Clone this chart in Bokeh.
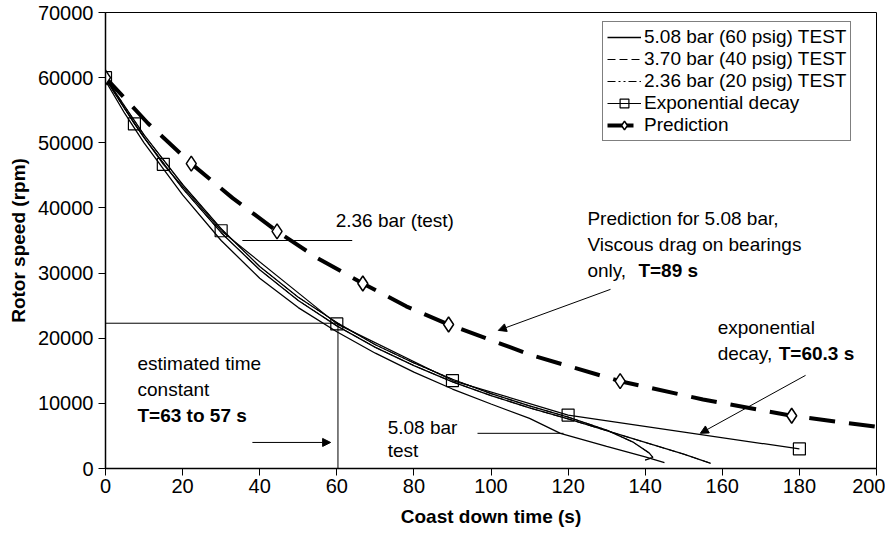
from bokeh.plotting import figure
from bokeh.models import (Range1d, FixedTicker, NumeralTickFormatter, Legend, LegendItem,
                          Arrow, NormalHead, Label)
from bokeh.embed import file_html
from bokeh.resources import INLINE

FONT = "Liberation Sans"
FS = "19px"

# ---------------- data ----------------
x_ticks = [0, 20, 40, 60, 80, 100, 120, 140, 160, 180, 200]
y_ticks = [0, 10000, 20000, 30000, 40000, 50000, 60000, 70000]

# 5.08 bar (60 psig) test
t_508 = [0, 5, 10, 20, 30, 40, 50, 60, 70, 80, 90, 100, 110, 118, 130, 140, 145]
rpm_508 = [59500, 54500, 50000, 42000, 35000, 29200, 24700, 21000, 17700, 14800, 12200,
           9900, 7700, 5400, 3400, 1800, 900]

# 3.70 bar (40 psig) test
t_370 = [0, 5, 10, 20, 30, 40, 50, 60, 70, 80, 90, 100, 110, 120, 130, 140, 150, 157]
rpm_370 = [59800, 55200, 50800, 43000, 36200, 30500, 25800, 21900, 18600, 15800, 13300,
           11200, 9300, 7600, 5800, 4000, 2200, 800]

# 2.36 bar (20 psig) test
t_236 = [0, 5, 10, 20, 30, 40, 50, 60, 70, 80, 90, 100, 110, 120, 130, 137, 141, 142, 140]
rpm_236 = [60000, 55600, 51200, 43600, 36800, 31000, 26300, 22400, 19000, 16200, 13700,
           11500, 9600, 7900, 5900, 4000, 2400, 1700, 1300]

# exponential decay, T = 60.3 s
t_exp = [0, 7.5, 15, 30, 60, 90, 120, 180]
rpm_exp = [60000, 52900, 46700, 36500, 22200, 13500, 8200, 3000]

# prediction, T = 89 s
t_pred = [0, 11, 22.25, 33, 44.5, 55, 66.75, 78, 89, 111, 133.5, 155, 178, 200]
rpm_pred = [60000, 53000, 46800, 41500, 36400, 32300, 28400, 24900, 22100, 17300,
            13400, 10600, 8100, 6400]
t_pred_mark = [0, 22.25, 44.5, 66.75, 89, 133.5, 178]
rpm_pred_mark = [60000, 46800, 36400, 28400, 22100, 13400, 8100]

# estimated time constant guide
t_est = [0, 60.3, 60.3]
rpm_est = [22300, 22300, 0]

# ---------------- figure ----------------
p = figure(width=885, height=540, output_backend="svg", toolbar_location=None,
           x_range=Range1d(0, 200), y_range=Range1d(0, 70000),
           min_border_left=105, min_border_right=9, min_border_top=12, min_border_bottom=72,
           background_fill_color="white", border_fill_color="white")
p.grid.visible = False
p.outline_line_color = "black"
p.outline_line_width = 1

for ax in (p.xaxis, p.yaxis):
    ax.axis_line_color = "black"
    ax.axis_line_width = 1.5
    ax.major_tick_line_color = "black"
    ax.major_tick_in = 0
    ax.major_tick_out = 7
    ax.minor_tick_line_color = None
    ax.major_label_text_font = FONT
    ax.major_label_text_font_size = "20px"
    ax.major_label_text_color = "black"
    ax.axis_label_text_font = FONT
    ax.axis_label_text_font_size = FS
    ax.axis_label_text_font_style = "bold"
    ax.axis_label_text_color = "black"

p.xaxis.ticker = FixedTicker(ticks=x_ticks)
p.yaxis.ticker = FixedTicker(ticks=y_ticks)
p.yaxis.formatter = NumeralTickFormatter(format="0")
p.xaxis.axis_label = "Coast down time (s)"
p.yaxis.axis_label = "Rotor speed (rpm)"
p.xaxis.major_label_standoff = 3
p.xaxis.axis_label_standoff = 10
p.yaxis.major_label_standoff = 5
p.yaxis.axis_label_standoff = 6

# guide lines for estimated time constant
p.line(t_est, rpm_est, line_color="black", line_width=1)

# dashed styles (shown in legend; covered on the plot by the dense test traces)
r370d = p.line(t_370, rpm_370, line_color="black", line_width=1, line_dash="8 4")
r236d = p.line(t_236, rpm_236, line_color="black", line_width=1, line_dash="8 3 2 3 2 3")

# test curves
r508 = p.line(t_508, rpm_508, line_color="black", line_width=1.3)
r370 = p.line(t_370, rpm_370, line_color="black", line_width=1.3)
r236 = p.line(t_236, rpm_236, line_color="black", line_width=1.3)

# exponential decay
rexp_l = p.line(t_exp, rpm_exp, line_color="black", line_width=1.2)
rexp_m = p.scatter(t_exp, rpm_exp, marker="square", size=12, fill_alpha=0,
                   line_color="black", line_width=1.2)

# prediction
rpred_l = p.line(t_pred, rpm_pred, line_color="black", line_width=4, line_dash="26 14")
rpred_m = p.scatter(t_pred_mark, rpm_pred_mark, marker="diamond", size=15, fill_color="white",
                    line_color="black", line_width=1.5)

legend = Legend(items=[
    LegendItem(label="5.08 bar (60 psig) TEST", renderers=[r508]),
    LegendItem(label="3.70 bar (40 psig) TEST", renderers=[r370d]),
    LegendItem(label="2.36 bar (20 psig) TEST", renderers=[r236d]),
    LegendItem(label="Exponential decay", renderers=[rexp_l, rexp_m]),
    LegendItem(label="Prediction", renderers=[rpred_l, rpred_m]),
], location=(497, 327), orientation="vertical",
    label_text_font=FONT, label_text_font_size=FS, label_text_color="black",
    glyph_width=34, glyph_height=22, label_height=22, spacing=0, padding=4, margin=0,
    label_standoff=3, border_line_color="black", border_line_width=1,
    background_fill_color="white", background_fill_alpha=1)
p.add_layout(legend)


def lab(x, y, text, bold=False, dx=0):
    p.add_layout(Label(x=x, y=y, x_offset=dx, text=text, text_font=FONT, text_font_size=FS,
                       text_font_style="bold" if bold else "normal",
                       text_baseline="middle", text_align="left", text_color="black"))


def arrow(x0, y0, x1, y1, head=True):
    p.add_layout(Arrow(x_start=x0, y_start=y0, x_end=x1, y_end=y1, line_width=1,
                       line_color="black",
                       end=NormalHead(size=8, fill_color="black", line_color="black") if head else None))


# annotations
lab(59.7, 38100, "2.36 bar (test)")
arrow(35.5, 35000, 64.0, 35000, head=False)

lab(125.0, 38400, "Prediction for 5.08 bar,")
lab(125.0, 34400, "Viscous drag on bearings")
lab(125.0, 30400, "only,")
lab(125.0, 30400, "T=89 s", bold=True, dx=51)
arrow(131.0, 27500, 101.9, 21200)

lab(158.8, 21650, "exponential")
lab(158.8, 17650, "decay,")
lab(158.8, 17650, "T=60.3 s", bold=True, dx=61)
arrow(181.6, 14300, 154.3, 5400)

lab(8.3, 16100, "estimated time")
lab(8.3, 12100, "constant")
lab(8.3, 8100, "T=63 to 57 s", bold=True)
arrow(38.1, 4000, 58.4, 4000)

lab(73.2, 6300, "5.08 bar")
lab(73.2, 2750, "test")
arrow(96.5, 5400, 118.8, 5400, head=False)

open("out.html", "w").write(file_html(p, INLINE))
